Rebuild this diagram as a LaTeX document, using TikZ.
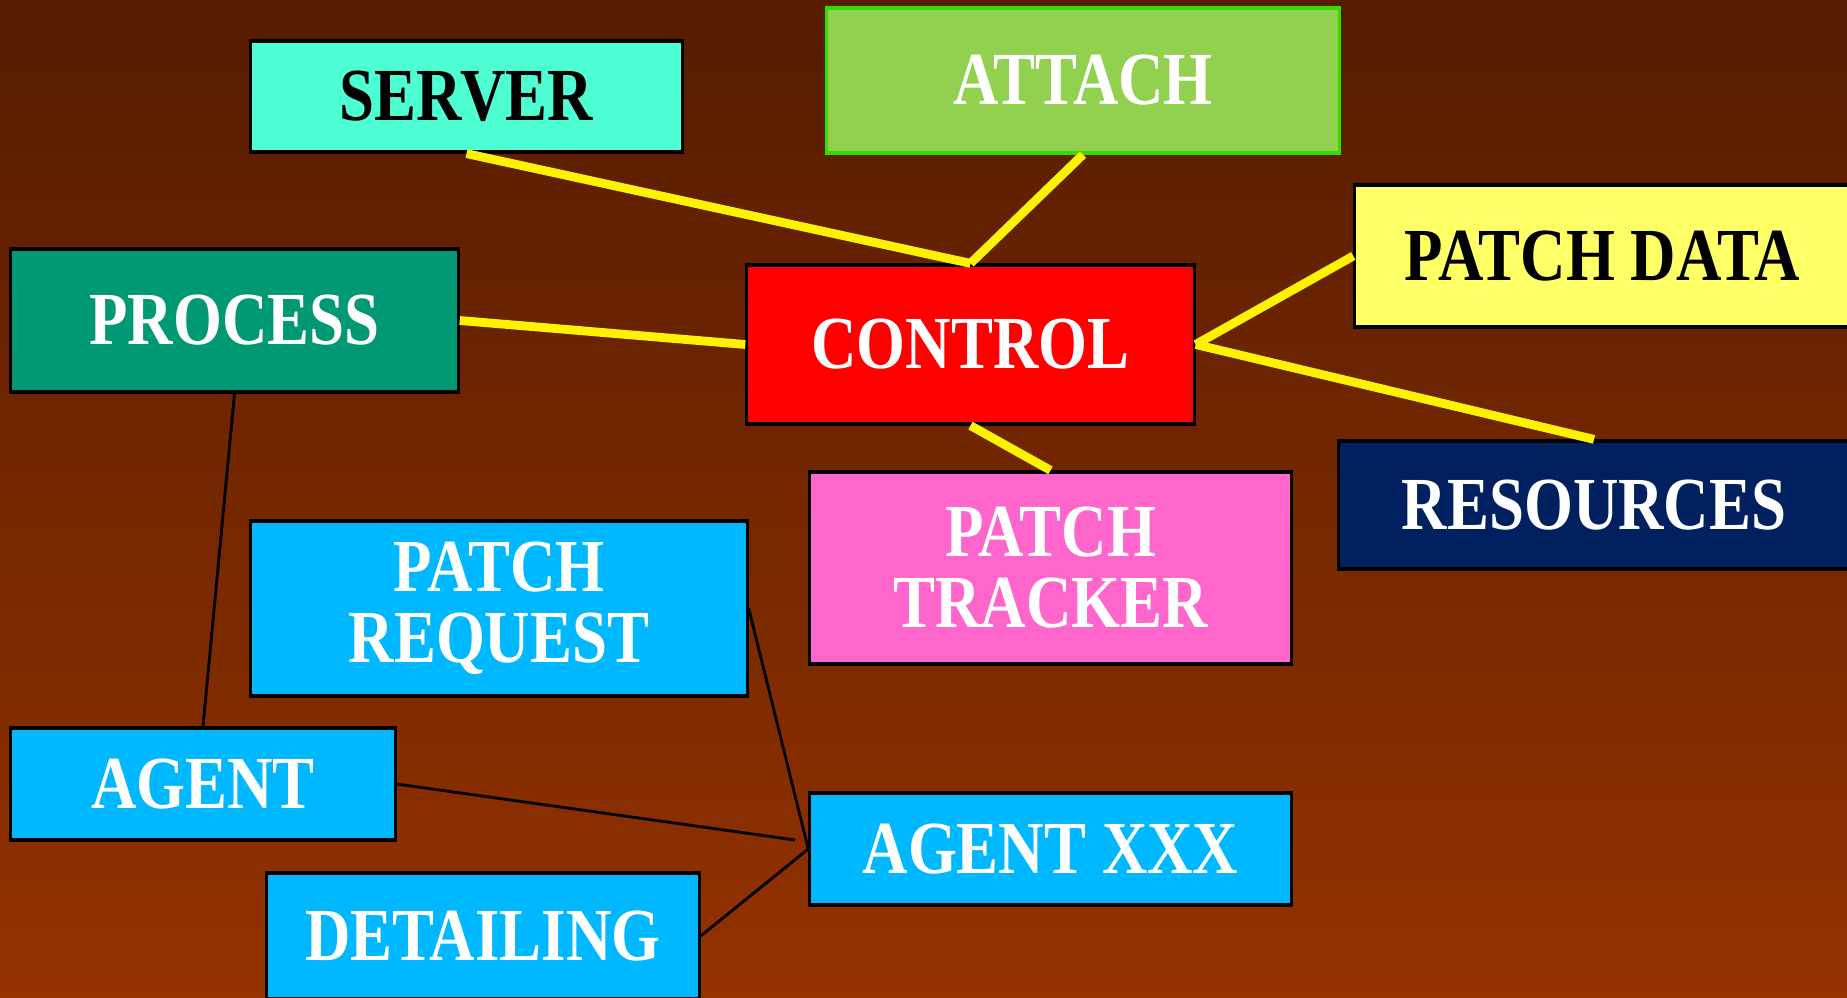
\documentclass[tikz,border=0pt]{standalone}
\usepackage{fontspec}
\setmainfont{Liberation Serif}[FakeStretch=0.84]
\definecolor{bgtop}{HTML}{551C00}
\definecolor{bgbot}{HTML}{943200}
\definecolor{serverfill}{HTML}{4DFFD2}
\definecolor{attachfill}{HTML}{92D050}
\definecolor{attachline}{HTML}{33DD00}
\definecolor{datafill}{HTML}{FFFF66}
\definecolor{processfill}{HTML}{009973}
\definecolor{resfill}{HTML}{002060}
\definecolor{trackerfill}{HTML}{FF66CC}
\definecolor{agentfill}{HTML}{00B8FF}
\begin{document}
\begin{tikzpicture}[x=0.01cm,y=-0.01cm,
    box/.style={draw=black,line width=0.9pt,inner sep=0pt,align=center,
        font=\fontsize{21.3}{20.2}\selectfont\bfseries,text=white},
    link/.style={yellow,line width=2.5pt},
    wire/.style={black,line width=0.8pt}]
\useasboundingbox (0,0) rectangle (1847,998);
\clip (0,0) rectangle (1847,998);
\fill[top color=bgtop,bottom color=bgbot] (0,0) rectangle (1847,998);

\node[box,fill=serverfill,text=black,minimum width=4.31cm,minimum height=1.11cm] (server) at (466.5,96.5) {SERVER};
\node[box,fill=attachfill,draw=attachline,minimum width=5.12cm,minimum height=1.45cm] (attach) at (1083,80.5) {ATTACH};
\node[box,fill=datafill,text=black,minimum width=4.94cm,minimum height=1.42cm] (patchdata) at (1602,256) {PATCH DATA};
\node[box,fill=processfill,minimum width=4.47cm,minimum height=1.43cm] (process) at (234.5,320.5) {PROCESS};
\node[box,fill=red,minimum width=4.47cm,minimum height=1.59cm] (control) at (970.5,344.5) {CONTROL};
\node[box,fill=resfill,minimum width=5.10cm,minimum height=1.28cm] (resources) at (1594,505) {RESOURCES};
\node[box,fill=trackerfill,minimum width=4.81cm,minimum height=1.92cm] (tracker) at (1050.5,568) {PATCH\\TRACKER};
\node[box,fill=agentfill,minimum width=4.96cm,minimum height=1.75cm] (request) at (499,608.5) {PATCH\\REQUEST};
\node[box,fill=agentfill,minimum width=3.84cm,minimum height=1.12cm] (agent) at (203,784) {AGENT};
\node[box,fill=agentfill,minimum width=4.81cm,minimum height=1.12cm] (agentxxx) at (1050.5,849) {AGENT XXX};
\node[box,fill=agentfill,minimum width=4.32cm,minimum height=1.26cm] (detailing) at (483,936) {DETAILING};

% yellow links to control
\draw[link] (server.south) -- (control.north);
\draw[link] (attach.south) -- (control.north);
\draw[link] (process.east) -- (control.west);
\draw[link] (control.east) -- (patchdata.west);
\draw[link] (control.east) -- (resources.north);
\draw[link] (control.south) -- (tracker.north);

% thin wires
\coordinate (loose) at (795,840);
\draw[wire] (process.south) -- (agent.north);
\draw[wire] (request.east) -- (agentxxx.west);
\draw[wire] (agent.east) -- (loose);
\draw[wire] (detailing.east) -- (agentxxx.west);
\end{tikzpicture}
\end{document}
